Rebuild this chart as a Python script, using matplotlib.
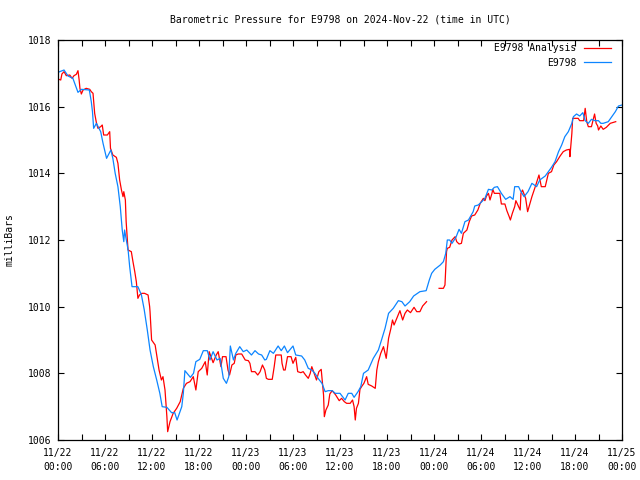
# coding:utf-8
"""
E9798 の気圧グラフ (gnuplot風)
"""

import numpy as np
import pandas as pd
import matplotlib
matplotlib.use("Agg")
import matplotlib.pyplot as plt

plt.rcParams["font.family"] = ["DejaVu Sans Mono"]
plt.rcParams["font.size"] = 7

START = pd.Timestamp("2024-11-22 00:00")

# E9798 (青) : 開始からの経過時間[h] と 気圧[mb]
station_hours = [
    0, 0.77, 1.28, 1.9, 2.55, 3.0, 4.0, 4.25, 4.4, 4.55, 4.9, 5.45, 5.75, 6.2,
    6.75, 7.0, 7.3, 7.65, 7.95, 8.2, 8.4, 8.5, 8.95, 9.15, 9.45, 10.2, 10.65,
    11.0, 11.4, 11.75, 12.17, 12.6, 13.0, 13.3, 13.9, 14.5, 14.9, 15.2, 15.8,
    16.0, 16.2, 16.65, 16.9, 17.3, 17.6, 18.1, 18.55, 19.06, 19.4, 19.8, 20.3,
    20.7, 21.1, 21.5, 21.8, 22.0, 22.4, 22.7, 23.2, 23.65, 24.1, 24.5, 24.7,
    25.15, 25.6, 26.0, 26.4, 26.6, 27.05, 27.5, 28.1, 28.5, 28.9, 29.3, 30.0,
    30.35, 31.1, 31.5, 31.95, 32.4, 32.8, 33.2, 33.7, 34.1, 34.5, 35.0, 35.4,
    36.0, 36.65, 37.05, 37.5, 37.8, 38.3, 38.65, 39.0, 39.6, 40.25, 40.9, 41.3,
    41.75, 42.2, 42.8, 43.45, 43.9, 44.3, 44.9, 45.4, 46.2, 47.0, 47.4, 47.7,
    48.1, 48.8, 49.2, 49.5, 49.7, 50.0, 50.3, 50.8, 51.2, 51.5, 51.95, 52.4,
    53.0, 53.2, 53.65, 54.1, 54.5, 54.95, 55.4, 55.7, 56.1, 56.6, 57.15, 57.7,
    58.1, 58.3, 58.8, 59.1, 59.5, 60.0, 60.5, 61.1, 61.5, 62.2, 62.6, 63.0,
    63.45, 63.9, 64.3, 64.7, 65.15, 65.6, 65.8, 66.2, 66.6, 67.0, 67.3, 67.7,
    68.1, 68.55, 69.0, 69.3, 69.6, 70.25, 70.7, 71.15, 71.55, 72.0,
]
station_mb = [
    1017.03, 1017.1, 1016.92, 1016.85, 1016.43, 1016.52, 1016.5, 1016.15,
    1015.85, 1015.35, 1015.5, 1015.25, 1014.9, 1014.45, 1014.7, 1014.45,
    1014.0, 1013.6, 1013.0, 1012.3, 1011.95, 1012.3, 1011.7, 1011.2, 1010.6,
    1010.6, 1010.35, 1009.92, 1009.3, 1008.7, 1008.2, 1007.8, 1007.4, 1007.0,
    1006.98, 1006.82, 1006.82, 1006.6, 1007.0, 1007.4, 1008.08, 1007.95,
    1007.88, 1008.0, 1008.35, 1008.42, 1008.68, 1008.68, 1008.4, 1008.65,
    1008.4, 1008.45, 1007.85, 1007.7, 1007.9, 1008.82, 1008.4, 1008.6,
    1008.8, 1008.65, 1008.7, 1008.6, 1008.55, 1008.68, 1008.58, 1008.55,
    1008.4, 1008.42, 1008.68, 1008.6, 1008.82, 1008.68, 1008.82, 1008.62,
    1008.82, 1008.55, 1008.52, 1008.4, 1008.15, 1008.1, 1008.0, 1007.85,
    1007.7, 1007.45, 1007.48, 1007.48, 1007.4, 1007.4, 1007.2, 1007.4,
    1007.4, 1007.28, 1007.45, 1007.6, 1008.0, 1008.1, 1008.45, 1008.7,
    1009.0, 1009.35, 1009.8, 1009.95, 1010.18, 1010.15, 1010.02, 1010.15,
    1010.32, 1010.45, 1010.48, 1010.8, 1011.0, 1011.12, 1011.25, 1011.35,
    1011.6, 1012.0, 1012.0, 1011.9, 1012.08, 1012.32, 1012.2, 1012.55,
    1012.6, 1012.85, 1013.02, 1013.05, 1013.15, 1013.25, 1013.52, 1013.5,
    1013.58, 1013.6, 1013.4, 1013.22, 1013.3, 1013.22, 1013.6, 1013.6,
    1013.45, 1013.3, 1013.45, 1013.7, 1013.6, 1013.8, 1013.92, 1014.05,
    1014.18, 1014.35, 1014.65, 1014.85, 1015.1, 1015.25, 1015.5, 1015.7,
    1015.78, 1015.72, 1015.82, 1015.58, 1015.5, 1015.62, 1015.58, 1015.58,
    1015.5, 1015.5, 1015.55, 1015.7, 1015.85, 1016.02, 1016.05,
]

# E9798 Analysis (赤) : 47.8h 付近は欠測 (NaN で線を切る)
analysis_hours = [
    0, 0.35, 0.5, 0.77, 1.06, 1.5, 1.8, 2.04, 2.34, 2.55, 2.7, 2.8, 2.98, 3.2,
    3.6, 4.05, 4.25, 4.47, 4.68, 4.9, 5.1, 5.45, 5.65, 5.83, 6.3, 6.6, 6.7,
    7.0, 7.45, 7.65, 7.87, 8.1, 8.3, 8.4, 8.6, 8.7, 8.94, 9.36, 9.57, 9.8,
    10.0, 10.2, 10.4, 10.7, 11.05, 11.5, 11.7, 11.75, 11.95, 12.4, 12.7, 12.9,
    13.2, 13.4, 13.66, 13.9, 14.0, 14.3, 14.7, 15.15, 15.6, 16.0, 16.4, 16.85,
    17.27, 17.6, 17.9, 18.35, 18.8, 19.05, 19.3, 19.8, 20.2, 20.45, 20.8,
    21.0, 21.45, 21.7, 21.9, 22.2, 22.5, 22.7, 23.0, 23.45, 23.9, 24.3, 24.5,
    24.7, 25.15, 25.5, 25.8, 26.1, 26.4, 26.6, 26.85, 27.35, 27.6, 27.8, 28.5,
    28.6, 28.8, 29.0, 29.3, 29.75, 30.0, 30.35, 30.6, 31.0, 31.3, 31.6, 31.95,
    32.2, 32.4, 32.7, 33.0, 33.3, 33.6, 33.75, 33.9, 34.0, 34.2, 34.5, 34.7,
    35.0, 35.45, 35.9, 36.2, 36.55, 36.85, 37.3, 37.6, 37.8, 37.95, 38.1,
    38.35, 38.55, 38.75, 39.05, 39.4, 39.6, 40.05, 40.5, 40.7, 40.9, 41.2,
    41.55, 41.9, 42.2, 42.5, 42.7, 42.9, 43.25, 43.65, 44.0, 44.3, 44.6, 45.0,
    45.45, 45.8, 46.2, 46.55, 47.05, 47.8, 48.65, 49.2, 49.4, 49.6, 49.7,
    50.0, 50.3, 50.7, 50.9, 51.2, 51.5, 51.75, 52.2, 52.5, 52.8, 53.2, 53.6,
    53.9, 54.3, 54.5, 54.7, 54.95, 55.15, 55.4, 55.5, 55.7, 56.4, 56.6, 57.05,
    57.3, 57.6, 57.75, 58.0, 58.3, 58.45, 58.8, 59.0, 59.1, 59.3, 59.7, 59.95,
    60.25, 60.5, 60.9, 61.4, 61.7, 62.2, 62.6, 63.0, 63.3, 63.65, 64.1, 64.5,
    64.9, 65.3, 65.35, 65.6, 65.7, 66.4, 66.6, 67.1, 67.3, 67.5, 67.7, 68.1,
    68.5, 68.7, 68.9, 69.0, 69.3, 69.6, 70.0, 70.5, 71.2,
]
analysis_mb = [
    1016.83, 1016.8, 1016.98, 1017.05, 1016.93, 1016.95, 1016.85, 1016.93,
    1016.97, 1017.08, 1016.8, 1016.55, 1016.38, 1016.5, 1016.55, 1016.52,
    1016.45, 1016.4, 1015.8, 1015.52, 1015.35, 1015.4, 1015.45, 1015.15,
    1015.15, 1015.25, 1014.75, 1014.55, 1014.48, 1014.3, 1013.8, 1013.5,
    1013.3, 1013.45, 1013.2, 1012.55, 1011.7, 1011.65, 1011.35, 1011.05,
    1010.75, 1010.25, 1010.35, 1010.4, 1010.4, 1010.35, 1010.0, 1009.85,
    1009.0, 1008.85, 1008.4, 1008.1, 1007.8, 1007.9, 1007.5, 1006.7, 1006.25,
    1006.55, 1006.8, 1006.95, 1007.15, 1007.55, 1007.7, 1007.75, 1007.9,
    1007.5, 1008.05, 1008.15, 1008.35, 1007.95, 1008.65, 1008.32, 1008.55,
    1008.65, 1008.2, 1008.5, 1008.5, 1008.1, 1007.95, 1008.25, 1008.3,
    1008.55, 1008.58, 1008.58, 1008.4, 1008.38, 1008.3, 1008.05, 1008.05,
    1007.95, 1008.05, 1008.25, 1008.1, 1007.85, 1007.82, 1007.82, 1008.2,
    1008.55, 1008.55, 1008.3, 1008.1, 1008.1, 1008.5, 1008.5, 1008.3,
    1008.48, 1008.05, 1008.02, 1008.05, 1007.95, 1007.85, 1008.0, 1008.2,
    1008.0, 1007.8, 1008.05, 1008.12, 1007.75, 1007.35, 1006.7, 1006.9,
    1007.05, 1007.38, 1007.48, 1007.35, 1007.18, 1007.25, 1007.15, 1007.1,
    1007.1, 1007.2, 1007.0, 1006.6, 1006.95, 1007.1, 1007.52, 1007.6,
    1007.7, 1007.9, 1007.67, 1007.62, 1007.55, 1008.1, 1008.35, 1008.6,
    1008.8, 1008.45, 1009.05, 1009.35, 1009.6, 1009.45, 1009.65, 1009.88,
    1009.6, 1009.8, 1009.9, 1009.82, 1009.98, 1009.85, 1009.85, 1010.02,
    1010.15, np.nan, 1010.55, 1010.55, 1010.65, 1011.65, 1011.75, 1011.78,
    1012.0, 1012.1, 1011.95, 1011.88, 1011.9, 1012.2, 1012.3, 1012.55,
    1012.72, 1012.75, 1012.9, 1013.1, 1013.25, 1013.18, 1013.32, 1013.4,
    1013.2, 1013.4, 1013.52, 1013.4, 1013.4, 1013.08, 1013.08, 1012.88,
    1012.7, 1012.6, 1012.8, 1013.0, 1013.18, 1013.0, 1012.9, 1013.4, 1013.5,
    1013.25, 1012.85, 1013.1, 1013.3, 1013.58, 1013.95, 1013.6, 1013.6,
    1014.0, 1014.05, 1014.25, 1014.35, 1014.52, 1014.65, 1014.7, 1014.72,
    1014.5, 1015.2, 1015.65, 1015.65, 1015.58, 1015.58, 1015.95, 1015.55,
    1015.4, 1015.4, 1015.78, 1015.5, 1015.42, 1015.3, 1015.42, 1015.32,
    1015.38, 1015.5, 1015.55,
]

y_ticks = [1006, 1008, 1010, 1012, 1014, 1016, 1018]


def to_time(hours):
    """
    経過時間[h] を Timestamp に変換する
    """
    return START + pd.to_timedelta(hours, unit="h")


fig = plt.figure(figsize=(6.4, 4.8), dpi=100)
ax = fig.add_axes([58 / 640, 40 / 480, 564 / 640, 400 / 480])

ax.plot(to_time(analysis_hours), analysis_mb, color="#ff0000", lw=0.9,
        label="E9798 Analysis")
ax.plot(to_time(station_hours), station_mb, color="#0c85ff", lw=0.9,
        label="E9798")

ax.set_xlim(START, to_time(72))
ax.set_ylim(1006, 1018)

major = pd.date_range(START, periods=13, freq="6h")
minor = pd.date_range(START, periods=25, freq="3h")
ax.set_xticks(major)
ax.set_xticklabels([t.strftime("%m/%d\n%H:%M") for t in major], linespacing=1.45)
ax.set_xticks(minor, minor=True)
ax.set_yticks(y_ticks)
ax.set_yticklabels([str(v) for v in y_ticks])

ax.tick_params(which="both", direction="in", length=4, width=0.8,
               top=True, right=True, colors="black")
ax.tick_params(axis="x", pad=6)
ax.tick_params(axis="y", pad=5)
for s in ax.spines.values():
    s.set_linewidth(0.9)

fig.text(340 / 640, 1 - 20 / 480,
         "Barometric Pressure for E9798 on 2024-Nov-22 (time in UTC)",
         ha="center", va="center")
fig.text(10 / 640, 0.5, "milliBars", rotation=90, ha="center", va="center")

ax.legend(loc="upper right", bbox_to_anchor=(1 - 11 / 564, 1 - 3 / 400),
          markerfirst=False, frameon=False, handlelength=2.8,
          handletextpad=0.8, labelspacing=0.5, borderpad=0, borderaxespad=0)

fig.savefig("out.png", dpi=100)
